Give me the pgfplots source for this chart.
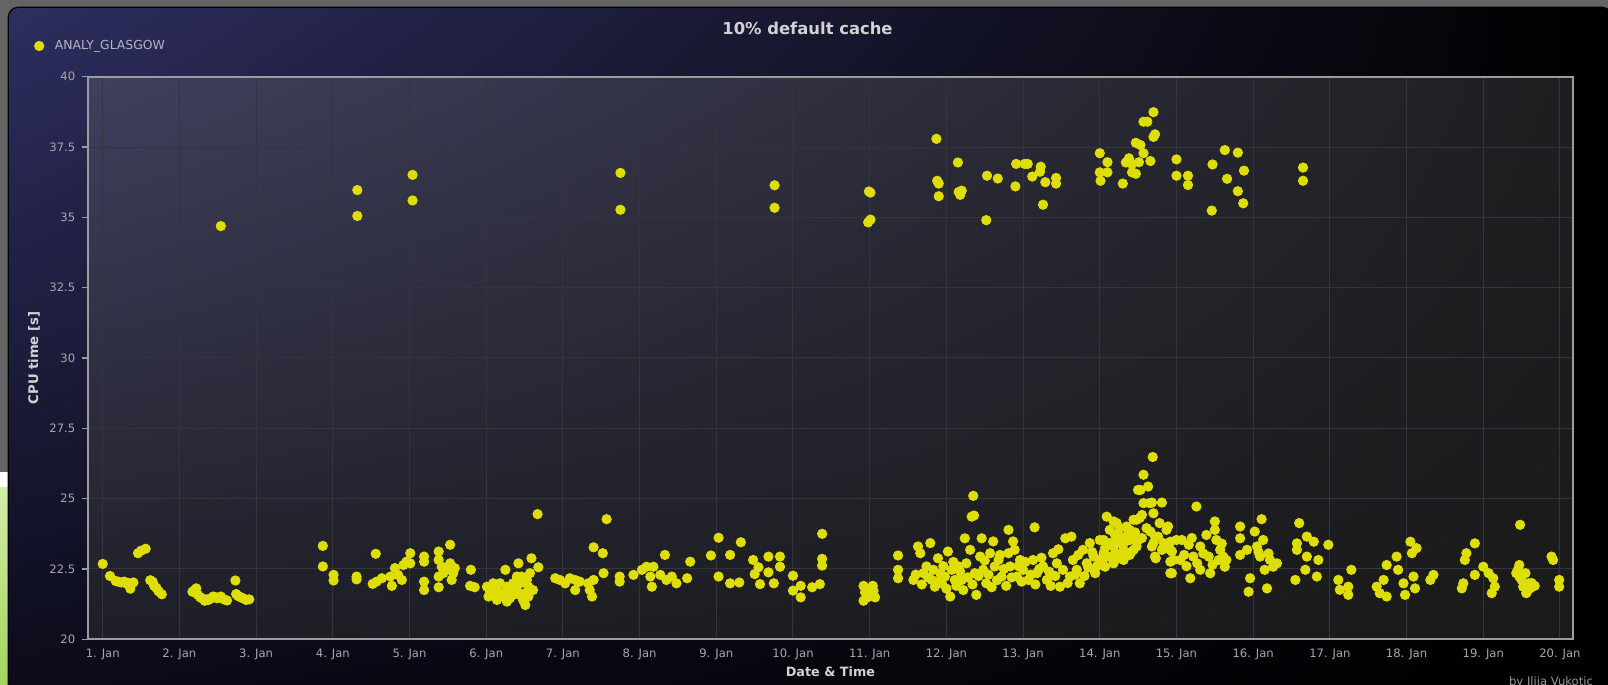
\documentclass[border=0pt]{standalone}
\usepackage{pgfplots}
\pgfplotsset{compat=1.18}
\usepackage{pgfplotstable}
\usetikzlibrary{shadings}
\usepackage{fontspec}
\setmainfont{DejaVu Sans}
\newfontfamily\djv{DejaVu Sans}
\definecolor{bggray}{HTML}{646464}
\definecolor{panelUL}{HTML}{2E2E60}
\definecolor{panelUR}{HTML}{000000}
\definecolor{panelLL}{HTML}{0A0A18}
\definecolor{panelLR}{HTML}{000000}
\definecolor{plotUL}{HTML}{40405F}
\definecolor{plotUR}{HTML}{1E1E20}
\definecolor{plotLL}{HTML}{1E1E27}
\definecolor{plotLR}{HTML}{1A1A1A}
\definecolor{gridc}{HTML}{34343A}
\definecolor{axisc}{HTML}{9C9C9C}
\definecolor{tickc}{HTML}{A8A8A8}
\definecolor{labc}{HTML}{D2D2D2}
\definecolor{legc}{HTML}{B4B4C4}
\definecolor{dotc}{RGB}{222,222,4}
\definecolor{greenA}{HTML}{D2ECAA}
\definecolor{greenB}{HTML}{A2D65A}

\pgfplotstableread{
x y
2.54 34.69
4.32 35.97
4.32 35.05
5.04 36.51
5.04 35.60
7.75 36.58
7.75 35.27
9.76 36.14
9.76 35.34
10.99 35.92
11.01 35.88
10.98 34.82
11.01 34.92
11.87 37.79
11.88 36.30
11.90 36.20
11.90 35.75
12.15 36.95
12.16 35.90
12.18 35.80
12.20 35.95
12.52 34.90
12.53 36.48
12.67 36.38
12.90 36.10
12.91 36.90
13.02 36.90
13.06 36.90
13.12 36.45
13.23 36.80
13.22 36.62
13.26 35.45
13.29 36.25
13.43 36.40
13.43 36.20
14.00 37.28
14.00 36.60
14.01 36.30
14.10 36.96
14.10 36.60
14.30 36.20
14.34 36.95
14.38 37.10
14.42 36.60
14.47 37.65
14.53 37.57
14.47 36.55
14.57 38.40
14.62 38.40
14.70 38.74
14.70 37.86
14.72 37.95
14.66 37.00
14.51 36.96
14.57 37.28
14.42 36.90
15.00 37.06
15.00 36.48
15.15 36.48
15.15 36.15
15.46 35.24
15.47 36.88
15.63 37.39
15.66 36.37
15.80 37.30
15.80 35.93
15.87 35.50
15.88 36.66
16.65 36.77
16.65 36.30
1.00 22.68
1.095 22.25
1.17 22.07
1.20 22.05
1.24 22.02
1.28 22.05
1.31 21.98
1.34 22.00
1.36 21.80
1.40 22.02
1.46 23.06
1.50 23.15
1.56 23.22
1.62 22.10
1.65 22.05
1.67 21.90
1.70 21.83
1.73 21.70
1.77 21.60
2.17 21.69
2.20 21.75
2.22 21.81
2.24 21.58
2.27 21.50
2.29 21.46
2.33 21.37
2.36 21.42
2.38 21.40
2.41 21.45
2.44 21.52
2.47 21.50
2.49 21.46
2.52 21.48
2.54 21.52
2.58 21.42
2.62 21.38
2.73 22.09
2.74 21.61
2.76 21.55
2.78 21.52
2.81 21.48
2.83 21.46
2.87 21.40
2.91 21.42
3.87 23.32
3.87 22.59
4.01 22.29
4.01 22.09
4.31 22.23
4.31 22.13
4.56 23.04
4.52 21.97
4.57 22.05
4.64 22.17
4.75 22.23
4.77 21.90
4.81 22.53
4.85 22.29
4.90 22.11
4.92 22.64
4.96 22.76
5.01 23.06
5.01 22.70
5.19 22.94
5.19 22.76
5.19 22.05
5.19 21.75
5.38 23.12
5.38 22.82
5.38 22.23
5.38 21.85
5.42 22.58
5.44 22.35
5.48 22.47
5.53 22.70
5.53 23.36
5.55 22.11
5.57 22.35
5.59 22.53
5.80 22.47
5.79 21.90
5.85 21.85
6.01 21.87
6.05 21.70
6.09 21.58
6.14 21.75
6.18 21.52
6.22 21.64
6.25 22.47
6.27 21.87
6.31 21.46
6.35 21.58
6.40 21.75
6.42 22.70
6.44 21.99
6.46 22.23
6.48 21.40
6.51 21.64
6.53 22.11
6.55 21.87
6.57 22.35
6.59 22.88
6.61 21.75
6.68 22.56
6.51 21.22
6.18 21.99
6.35 21.99
6.09 21.99
6.31 21.75
6.40 22.23
6.55 21.52
6.03 21.52
6.14 21.40
6.27 21.34
6.44 21.58
6.67 24.45
6.90 22.17
6.96 22.11
7.03 21.99
7.09 22.17
7.16 22.11
7.16 21.75
7.22 22.05
7.33 21.99
7.35 21.75
7.38 21.52
7.40 22.11
7.40 23.27
7.52 23.06
7.53 22.35
7.57 24.27
7.74 22.23
7.74 22.05
7.92 22.29
8.03 22.47
8.09 22.58
8.14 22.23
8.16 21.87
8.18 22.58
8.27 22.29
8.33 23.00
8.35 22.11
8.42 22.23
8.48 21.99
8.62 22.17
8.66 22.76
8.93 22.98
9.03 23.61
9.03 22.23
9.18 23.00
9.18 21.99
9.30 22.02
9.32 23.45
9.48 22.82
9.50 22.32
9.55 22.56
9.57 21.96
9.68 22.94
9.68 22.38
9.75 21.99
9.83 22.94
9.83 22.58
10.00 22.26
10.00 21.73
10.10 21.90
10.10 21.49
10.25 21.85
10.35 21.96
10.38 23.75
10.38 22.86
10.38 22.62
10.92 21.90
10.94 21.67
10.97 21.49
10.99 21.79
11.02 21.61
11.04 21.90
11.07 21.49
10.92 21.37
11.00 21.70
11.05 21.72
11.37 22.98
11.37 22.47
11.37 22.17
11.57 22.11
11.63 23.30
11.66 23.06
11.70 22.35
11.74 22.59
11.79 23.42
11.81 22.11
11.83 22.47
11.85 21.87
11.89 22.88
11.92 22.35
11.94 21.99
11.98 22.23
12.02 23.12
12.05 21.52
12.07 22.47
12.11 22.11
12.16 22.59
12.20 22.11
12.24 23.59
12.26 22.70
12.31 23.18
12.33 24.36
12.35 25.10
12.36 24.40
12.37 22.35
12.39 21.58
12.44 22.94
12.46 23.59
12.48 22.47
12.52 21.99
12.57 23.06
12.61 23.48
12.63 22.59
12.68 22.82
12.72 22.23
12.81 23.89
12.81 23.06
12.83 22.59
12.87 23.48
12.89 23.18
12.92 22.23
12.96 22.82
13.00 22.47
13.07 22.11
13.13 22.82
13.15 23.98
13.18 22.35
13.26 22.59
13.31 22.11
13.39 23.06
13.44 22.70
13.48 21.87
13.52 22.47
13.55 23.59
13.61 22.23
13.63 23.65
13.65 22.82
13.70 22.47
13.74 21.99
13.78 23.18
13.83 22.70
13.87 23.42
13.92 22.94
13.96 22.59
14.00 23.53
14.05 23.06
14.09 24.36
14.13 23.89
14.18 23.30
14.22 24.13
14.24 22.88
14.26 23.65
14.31 23.18
14.35 24.01
14.39 23.53
14.44 24.25
14.48 23.30
14.50 25.31
14.52 24.31
14.57 25.85
14.57 24.84
14.61 23.95
14.63 25.43
14.65 24.84
14.68 23.30
14.70 24.48
14.72 23.65
14.73 22.88
14.78 24.13
14.81 24.86
14.83 23.42
14.87 23.89
14.92 23.18
14.94 22.35
14.96 22.82
15.00 23.53
14.69 26.48
11.60 22.30
11.68 21.95
11.76 22.20
11.88 22.05
11.96 22.60
12.00 21.80
12.09 22.75
12.13 21.90
12.18 22.40
12.22 21.75
12.28 22.20
12.34 21.95
12.42 22.25
12.50 22.80
12.55 22.30
12.59 21.85
12.66 22.10
12.70 23.00
12.75 22.50
12.78 21.90
12.85 22.20
12.94 22.60
12.98 22.05
13.03 22.75
13.10 22.30
13.16 21.95
13.21 22.50
13.24 22.90
13.34 22.40
13.36 21.90
13.42 22.25
13.46 23.20
13.58 22.00
13.68 22.30
13.72 23.00
13.80 22.25
13.85 22.55
13.90 23.10
13.94 22.35
14.03 22.75
14.07 23.25
14.15 22.95
14.20 23.70
14.28 23.40
14.33 22.95
14.37 23.75
14.41 23.10
14.46 23.80
14.55 23.60
14.53 25.31
14.68 24.86
14.18 24.19
14.26 23.95
14.39 23.89
14.48 24.25
14.55 24.42
14.05 23.53
14.13 23.42
14.22 23.59
14.33 23.47
14.44 23.18
14.50 23.53
14.00 22.82
14.11 22.94
14.20 23.06
14.31 22.82
14.39 23.00
14.07 22.58
14.18 22.70
14.66 23.83
14.70 23.42
14.76 23.65
14.72 22.94
14.81 23.18
14.89 24.01
14.92 23.47
14.94 23.12
14.92 22.76
14.92 22.35
15.07 23.53
15.05 22.82
15.16 23.36
15.18 22.17
15.26 24.72
15.22 22.94
15.31 23.30
15.31 22.47
15.39 23.71
15.42 22.94
15.44 22.35
15.50 24.19
15.50 23.89
15.52 23.53
15.55 22.82
15.57 23.18
15.63 22.58
15.61 22.94
15.65 22.82
15.10 23.00
15.13 22.60
15.20 23.60
15.27 22.70
15.35 23.05
15.47 22.65
15.59 23.40
15.83 24.01
15.83 23.59
15.83 23.00
15.92 23.18
15.96 22.17
15.94 21.69
16.02 23.83
16.05 23.30
16.11 24.27
16.09 22.94
16.13 23.53
16.15 22.47
16.18 21.81
16.22 22.82
16.26 22.58
16.31 22.70
16.07 23.10
16.20 23.05
16.60 24.13
16.57 23.41
16.57 23.18
16.55 22.11
16.70 23.65
16.70 22.94
16.68 22.47
16.79 23.47
16.85 22.82
16.83 22.23
16.98 23.36
17.11 22.11
17.13 21.76
17.24 21.58
17.24 21.87
17.28 22.47
17.61 21.87
17.65 21.64
17.70 22.11
17.74 22.64
17.74 21.52
17.87 22.94
17.89 22.47
17.96 21.99
17.98 21.58
18.05 23.47
18.07 23.06
18.09 22.23
18.13 23.24
18.11 21.81
18.31 22.11
18.35 22.29
18.72 21.81
18.74 21.99
18.76 22.82
18.78 23.06
18.89 23.41
18.89 22.29
19.00 22.58
19.07 22.35
19.13 22.17
19.11 21.64
19.15 21.87
19.48 24.07
19.43 22.35
19.47 22.64
19.50 22.11
19.52 21.87
19.55 22.35
19.57 21.69
19.59 21.99
19.47 22.23
19.45 22.47
19.56 21.64
19.61 21.81
19.63 22.00
19.67 21.90
19.89 22.94
19.91 22.82
19.99 22.11
19.99 21.87
}\cpudata

\begin{document}
\begin{tikzpicture}
\path[use as bounding box] (0,0) rectangle (804pt,342.5pt);
% page background
\fill[bggray] (0,0) rectangle (804pt,342.5pt);
\fill[white] (0,98.5pt) rectangle (4.3pt,106.6pt);
\shade[top color=greenA, bottom color=greenB] (0,0) rectangle (4.3pt,98.5pt);
% chart panel
\shade[upper left=panelUL, upper right=panelUR, lower left=panelLL, lower right=panelLR, rounded corners=5pt]
  (4.15pt,-10pt) rectangle (806pt,338.85pt);
\draw[black, line width=0.6pt, rounded corners=5pt] (4.15pt,-10pt) rectangle (806pt,338.85pt);
\begin{axis}[
  at={(44.15pt,22.85pt)}, anchor=south west,
  scale only axis, width=742.2pt, height=281.3pt,
  xmin=0.812, xmax=20.166, ymin=20, ymax=40,
  xtick={1,2,3,4,5,6,7,8,9,10,11,12,13,14,15,16,17,18,19,20},
  xticklabels={1. Jan,2. Jan,3. Jan,4. Jan,5. Jan,6. Jan,7. Jan,8. Jan,9. Jan,10. Jan,11. Jan,12. Jan,13. Jan,14. Jan,15. Jan,16. Jan,17. Jan,18. Jan,19. Jan,20. Jan},
  ytick={20,22.5,25,27.5,30,32.5,35,37.5,40},
  yticklabels={20,22.5,25,27.5,30,32.5,35,37.5,40},
  grid=major,
  major grid style={color=gridc, line width=0.5pt},
  axis line style={color=axisc, line width=0.9pt},
  tick align=outside, tickpos=left,
  major tick length=3pt,
  every tick/.style={color=axisc, line width=0.6pt},
  every x tick/.style={draw=none},
  ticklabel style={font=\djv\fontsize{5.8}{7}\selectfont, text=tickc},
  xticklabel style={yshift=1.6pt},
  /pgf/number format/assume math mode=true,
  axis background/.style={shade, upper left=plotUL, upper right=plotUR, lower left=plotLL, lower right=plotLR},
  ylabel={CPU time [s]},
  ylabel style={at={(axis description cs:-0.0366,0.5)}, anchor=center, font=\djv\bfseries\fontsize{6.6}{8}\selectfont, text=labc},
  xlabel={Date \& Time},
  xlabel style={at={(axis description cs:0.5,-0.058)}, anchor=center, font=\djv\bfseries\fontsize{6.4}{8}\selectfont, text=labc},
  legend style={at={(axis description cs:-0.0365,1.0546)}, anchor=west, draw=none, fill=none,
     font=\djv\fontsize{6.2}{8}\selectfont, text=legc, inner sep=0pt, column sep=3.5pt},
  legend image code/.code={\draw[#1] plot coordinates {(0pt,0pt)};},
  legend cell align=left,
]
\addplot[only marks, mark=*, mark size=2.35pt, color=dotc] table[x=x, y=y] {\cpudata};
\addlegendentry{ANALY\_GLASGOW}
\end{axis}
\node[font=\djv\bfseries\fontsize{8.2}{10}\selectfont, text=labc] at (403.75pt,328.25pt) {10\% default cache};
\node[font=\djv\fontsize{5.8}{7}\selectfont, text=gray!80!white, anchor=east] at (800pt,1.5pt) {by Ilija Vukotic};
\end{tikzpicture}
\end{document}
